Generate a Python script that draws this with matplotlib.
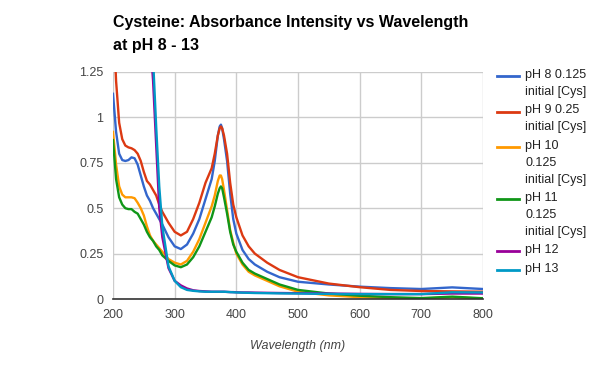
import numpy as np
import matplotlib.pyplot as plt
from matplotlib.lines import Line2D

plt.rcParams['font.family'] = ['Liberation Sans', 'DejaVu Sans']

# wavelength grid (nm)
wl = [200, 205, 210, 215, 220, 225, 230, 235, 240, 245, 250, 255, 260, 265,
      270, 275, 280, 290, 300, 310, 320, 330, 340, 350, 360, 365, 370, 373,
      375, 377, 380, 385, 390, 395, 400, 410, 420, 430, 450, 470, 500, 550,
      600, 650, 700, 750, 800]

ph8 = [1.13, 0.92, 0.80, 0.765, 0.76, 0.765, 0.78, 0.775, 0.74, 0.68, 0.62,
       0.57, 0.54, 0.50, 0.47, 0.44, 0.41, 0.34, 0.29, 0.275, 0.30, 0.36,
       0.44, 0.55, 0.66, 0.76, 0.90, 0.95, 0.96, 0.94, 0.88, 0.76, 0.58, 0.44,
       0.36, 0.27, 0.22, 0.19, 0.15, 0.12, 0.095, 0.08, 0.068, 0.06, 0.055,
       0.064, 0.055]
ph9 = [1.6, 1.2, 0.97, 0.88, 0.845, 0.835, 0.83, 0.82, 0.80, 0.76, 0.70,
       0.65, 0.63, 0.60, 0.57, 0.52, 0.48, 0.42, 0.37, 0.35, 0.37, 0.44, 0.53,
       0.64, 0.72, 0.80, 0.90, 0.94, 0.95, 0.94, 0.90, 0.80, 0.64, 0.52, 0.45,
       0.35, 0.29, 0.25, 0.20, 0.16, 0.12, 0.085, 0.065, 0.05, 0.044, 0.042,
       0.04]
ph10 = [0.92, 0.74, 0.62, 0.575, 0.56, 0.56, 0.56, 0.555, 0.53, 0.50, 0.46,
        0.40, 0.35, 0.32, 0.30, 0.28, 0.26, 0.22, 0.20, 0.19, 0.21, 0.26,
        0.33, 0.42, 0.51, 0.57, 0.65, 0.68, 0.68, 0.66, 0.60, 0.49, 0.38,
        0.31, 0.25, 0.19, 0.15, 0.13, 0.10, 0.07, 0.04, 0.02, 0.01, 0.005,
        0.002, 0.01, 0.002]
ph11 = [0.875, 0.66, 0.56, 0.52, 0.50, 0.495, 0.495, 0.48, 0.47, 0.44, 0.41,
        0.37, 0.34, 0.32, 0.29, 0.27, 0.24, 0.21, 0.185, 0.175, 0.19, 0.23,
        0.29, 0.37, 0.45, 0.51, 0.58, 0.61, 0.62, 0.61, 0.56, 0.47, 0.37,
        0.30, 0.26, 0.20, 0.16, 0.14, 0.11, 0.08, 0.05, 0.03, 0.018, 0.01,
        0.005, 0.013, 0.004]
ph12 = [3.0, 3.0, 3.0, 3.0, 3.0, 3.0, 3.0, 2.9, 2.7, 2.4, 2.1, 1.9, 1.45, 1.2,
        0.85, 0.5, 0.34, 0.17, 0.10, 0.075, 0.058, 0.048, 0.044, 0.042, 0.04,
        0.04, 0.04, 0.04, 0.04, 0.04, 0.04, 0.039, 0.038, 0.038, 0.037, 0.036,
        0.036, 0.035, 0.034, 0.033, 0.032, 0.03, 0.028, 0.027, 0.027, 0.03,
        0.03]
ph13 = [3.0, 3.0, 3.0, 3.0, 3.0, 3.0, 3.0, 3.0, 2.8, 2.5, 2.3, 2.0, 1.6, 1.32,
        0.95, 0.62, 0.40, 0.18, 0.10, 0.065, 0.05, 0.045, 0.042, 0.04, 0.04,
        0.04, 0.04, 0.04, 0.04, 0.04, 0.04, 0.039, 0.038, 0.037, 0.036, 0.035,
        0.034, 0.033, 0.032, 0.031, 0.03, 0.028, 0.027, 0.027, 0.027, 0.037,
        0.036]

series = [ph8, ph9, ph10, ph11, ph12, ph13]
labels = ["pH 8 0.125\ninitial [Cys]", "pH 9 0.25\ninitial [Cys]",
          "pH 10\n0.125\ninitial [Cys]", "pH 11\n0.125\ninitial [Cys]",
          "pH 12", "pH 13"]
colors = ['#3366cc', '#dc3912', '#ff9900', '#109618', '#990099', '#0099c6']

W, H = 594, 366
fig = plt.figure(figsize=(W / 100, H / 100), dpi=100)
ax = fig.add_axes([113 / W, 1 - 299 / H, 370 / W, 227 / H])

for y, c in zip(series, colors):
    ax.plot(wl, y, color=c, lw=1.7, solid_joinstyle='round')

ax.set_xlim(200, 800)
ax.set_ylim(0, 1.25)
ax.set_xticks([200, 300, 400, 500, 600, 700, 800])
ax.set_yticks([0, 0.25, 0.5, 0.75, 1, 1.25])
ax.set_yticklabels(['0', '0.25', '0.5', '0.75', '1', '1.25'])
ax.grid(True, color='#cccccc', lw=1)
ax.set_axisbelow(True)
for s in ['top', 'right', 'left']:
    ax.spines[s].set_visible(False)
ax.spines['bottom'].set_color('#333333')
ax.spines['bottom'].set_linewidth(1.2)
ax.spines['bottom'].set_zorder(5)
ax.tick_params(length=0, labelsize=9, colors='#444444', pad=7)
ax.set_xlabel('Wavelength (nm)', style='italic', fontsize=9,
              color='#444444', labelpad=14)

fig.text(113 / W, 1 - 15 / H, 'Cysteine: Absorbance Intensity vs Wavelength\nat pH 8 - 13',
         fontsize=11.5, fontweight='bold', color='#000000', va='top',
         linespacing=1.65)

# legend drawn by hand, Google-Charts style
y0 = 76
for lab, c in zip(labels, colors):
    fy = 1 - y0 / H
    fig.add_artist(Line2D([497 / W, 519 / W], [fy, fy], color=c, lw=2,
                          transform=fig.transFigure))
    fig.text(525 / W, fy + 7 / H, lab, fontsize=9, color='#222222', va='top',
             ha='left', linespacing=1.55, transform=fig.transFigure)
    nlines = lab.count('\n') + 1
    y0 += 16.5 * (nlines - 1) + 19

fig.savefig('out.png', dpi=100)
